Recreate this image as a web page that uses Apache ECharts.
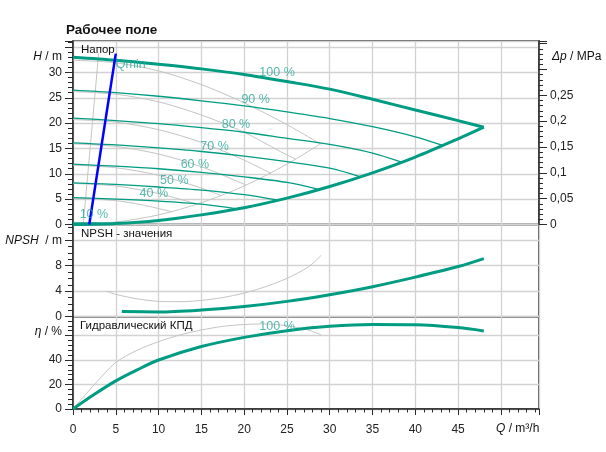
<!DOCTYPE html>
<html><head><meta charset="utf-8">
<script src="https://cdn.jsdelivr.net/npm/echarts@6/dist/echarts.min.js"></script>
<style>html,body{margin:0;padding:0;background:#fff}#c{width:606px;height:452px}</style>
</head><body><div id="c"></div>
<script>
// ---- data (Q in m3/h, H in m) ----
const qTicks = [0,5,10,15,20,25,30,35,40,45];
const head100 = [[0,33.0],[5,32.4],[10,31.6],[15,30.7],[20,29.6],[25,28.2],[30,26.7],[35,24.7],[40,22.6],[45,20.5],[48,19.2]];
const head90  = [[0,26.5],[5,26.0],[10,25.3],[15,24.4],[20,23.4],[25,22.2],[30,20.9],[35,19.3],[40,17.3],[43.2,15.6]];
const head80  = [[0,21.0],[5,20.5],[10,19.9],[15,19.1],[20,18.2],[25,17.0],[30,15.8],[35,14.1],[38.4,12.3]];
const head70  = [[0,16.1],[5,15.7],[10,15.1],[15,14.4],[20,13.5],[25,12.4],[30,11.1],[33.6,9.4]];
const head60  = [[0,11.9],[5,11.5],[10,11.0],[15,10.3],[20,9.4],[25,8.3],[28.8,6.9]];
const head50  = [[0,8.2],[5,7.9],[10,7.4],[15,6.8],[20,5.9],[24,4.8]];
const head40  = [[0,5.3],[5,5.0],[10,4.6],[15,4.0],[19.2,3.1]];
const head10  = [[0,0.33],[2.4,0.3],[4.8,0.19]];
const maxEnvelope = [[0,0],[5,0.2],[10,0.8],[15,1.9],[20,3.3],[25,5.2],[30,7.5],[35,10.2],[40,13.3],[45,16.9],[48,19.2]];
const qminLine = [[1.9,0],[5.0,33.7]];

const gray100 = [[0,32.4],[5,31.9],[10,30.3],[15,27.6],[20,24.0],[25,19.7],[28.9,15.9]];
const gray90  = [[0,26.2],[5,25.7],[10,24.2],[15,21.6],[20,18.2],[24,14.6],[26,12.9]];
const gray80  = [[0,20.7],[5,20.2],[10,18.7],[15,16.2],[20,12.7],[23.1,10.1]];
const gray70  = [[0,15.9],[5,15.4],[10,13.9],[15,11.4],[20.2,7.8]];
const gray60  = [[0,11.7],[5,11.2],[10,9.7],[15,7.2],[17.3,5.7]];
const gray50  = [[0,8.1],[5,7.6],[10,6.1],[14.5,4.0]];
const gray40  = [[0,5.2],[5,4.7],[8,3.9],[11.6,2.5]];
const grayEnvelope = [[0,0],[5,0.5],[10,1.9],[15,4.3],[20,7.6],[25,11.9],[28.9,15.9]];
const grayQmin = [[1.2,0],[3.0,33.8]];

const npshTeal = [[5.7,0.8],[10,0.74],[15,1.05],[20,1.6],[25,2.4],[30,3.45],[35,4.7],[40,6.2],[45,7.85],[48,9.1]];
const npshGray = [[3.9,4.0],[5,3.5],[7.5,2.8],[10,2.4],[12.5,2.35],[15,2.55],[17.5,3.0],[20,3.7],[22.5,4.7],[25,6.0],[27.5,7.8],[29,9.6]];

const effTeal = [[0,0],[2.5,12],[5,23],[7.5,32],[10,40],[15,51],[20,58.5],[25,64],[30,67.5],[35,69],[40,68.8],[45,66.5],[48,63.8]];
const effGray = [[0,0],[2.5,20],[5,38],[7.5,48],[10,55],[12.5,60.5],[15,64.5],[17.5,67.5],[20,69],[22.5,69.5],[25,68],[27.5,64.5],[29,60.5]];

const headLabelText = ['100 %','90 %','80 %','70 %','60 %','50 %','40 %','10 %','Qmin'];
const headLabelQ    = [23.9, 21.4, 19.1, 16.6, 14.3, 11.9, 9.5, 2.5, 6.8];
const headLabelH    = [29.9, 24.6, 19.7, 15.3, 11.8, 8.6, 6.0, 1.9, 31.5];
const effLabelText = ['100 %'];
const effLabelQ = [23.9];
const effLabelE = [67];

// ---- axis ranges ----
const Q_MAX = 54.45, H_MAX = 36.2, NPSH_MAX = 14.43, ETA_MAX = 75.4;
const P_MAX = H_MAX * 0.00981;

const FONT = 'Liberation Sans, Arial, sans-serif';
const TEAL = '#009c82', TEAL_TXT = '#2aa89a', GRAY = '#c4c4c4', GRID = '#d2d2d2', INK = '#2a2a2a';

function mult(v, s){ return Math.abs(v/s - Math.round(v/s)) < 1e-6; }

const gridBox = {show:true, borderColor:INK, borderWidth:1.5, backgroundColor:'transparent'};
function xAx(idx, showLab){
  return {type:'value', gridIndex:idx, min:0, max:Q_MAX, interval:5,
    axisLine:{show:showLab, onZero:false, lineStyle:{color:INK, width:1.5}},
    axisTick:{show:showLab, length:6, lineStyle:{color:INK}},
    minorTick:{show:showLab, splitNumber:5, length:3.5, lineStyle:{color:INK}},
    axisLabel:{show:showLab, margin:15, fontSize:12, color:'#222', fontFamily:FONT,
      formatter:v => (mult(v,5) && v < 48) ? String(Math.round(v)) : '', showMaxLabel:false},
    splitLine:{show:true, lineStyle:{color:GRID, width:1.3}}};
}
function yAx(idx, max, interval, minorSplit, fmt){
  return {type:'value', gridIndex:idx, min:0, max:max, interval:interval,
    axisLine:{show:true, onZero:false, lineStyle:{color:INK, width:1.5}},
    axisTick:{show:true, length:8, lineStyle:{color:INK}},
    minorTick:{show:true, splitNumber:minorSplit, length:5, lineStyle:{color:INK}},
    axisLabel:{margin:11, fontSize:12, color:'#222', fontFamily:FONT, formatter:fmt, showMaxLabel:false},
    splitLine:{show:true, lineStyle:{color:GRID, width:1.3}}};
}

function line(data, xi, yi, color, width, z){
  return {type:'line', data:data, xAxisIndex:xi, yAxisIndex:yi, showSymbol:false, symbol:'none',
    smooth:0.3, lineStyle:{color:color, width:width}, z:z, silent:true};
}

const series = [];
[gray100,gray90,gray80,gray70,gray60,gray50,gray40,grayEnvelope,grayQmin].forEach(d => series.push(line(d,0,0,GRAY,1,2)));
[head90,head80,head70,head60,head50,head40,head10].forEach(d => series.push(line(d,0,0,TEAL,1.3,3)));
series.push(line(head100,0,0,TEAL,3,4));
series.push(line(maxEnvelope,0,0,TEAL,3,4));
series.push(line(qminLine,0,0,'#0000ff',2.5,5));
series.push(line(npshGray,1,2,GRAY,1,2));
series.push(line(npshTeal,1,2,TEAL,3,4));
series.push(line(effGray,2,3,GRAY,1,2));
series.push(line(effTeal,2,3,TEAL,3,4));

function labelSeries(texts, xs, ys, xi, yi){
  return {type:'scatter', xAxisIndex:xi, yAxisIndex:yi, symbolSize:1, itemStyle:{color:'transparent'}, z:6, silent:true,
    data: texts.map((t,i) => ({name:t, value:[xs[i], ys[i]]})),
    label:{show:true, position:[0,0], align:'center', verticalAlign:'middle', formatter:p => p.name,
      fontSize:12.5, color:TEAL_TXT, fontFamily:FONT}};
}
series.push(labelSeries(headLabelText, headLabelQ, headLabelH, 0, 0));
series.push(labelSeries(effLabelText, effLabelQ, effLabelE, 2, 3));

function txt(x, y, text, align, extra){
  const st = Object.assign({x:0, y:0, text:text, fontSize:12, fontFamily:FONT, fill:'#111', align:align, verticalAlign:'middle',
    rich:{i:{fontStyle:'italic', fontSize:12, fontFamily:FONT, fill:'#111'}}}, extra||{});
  return {type:'text', x:x, y:y, z:100, style:st, silent:true};
}

const option = {
  animation:false,
  backgroundColor:'#fff',
  grid:[
    Object.assign({left:73, top:41, width:466, height:183.5}, gridBox),
    Object.assign({left:73, top:224.5, width:466, height:92.2}, gridBox),
    Object.assign({left:73, top:316.7, width:466, height:92.3}, gridBox)
  ],
  xAxis:[xAx(0,false), xAx(1,false), xAx(2,true)],
  yAxis:[
    yAx(0, H_MAX, 5, 5, v => (mult(v,5) && v < 33) ? String(Math.round(v)) : ''),
    {type:'value', gridIndex:0, position:'right', min:0, max:P_MAX, interval:0.05,
      axisLine:{show:true, onZero:false, lineStyle:{color:INK, width:1.5}},
      axisTick:{show:true, length:8, lineStyle:{color:INK}},
      minorTick:{show:true, splitNumber:5, length:4, lineStyle:{color:INK}},
      axisLabel:{margin:11, fontSize:12, color:'#222', fontFamily:FONT, showMaxLabel:false,
        formatter:v => (mult(v,0.05) && v < 0.28) ? (v < 1e-9 ? '0' : String(+v.toFixed(2)).replace('.', ',')) : ''},
      splitLine:{show:false}},
    yAx(1, NPSH_MAX, 4, 4, v => (mult(v,4) && v < 11) ? String(Math.round(v)) : ''),
    yAx(2, ETA_MAX, 20, 5, v => (mult(v,20) && v < 55) ? String(Math.round(v)) : '')
  ],
  series: series,
  graphic:[
    txt(66, 30, 'Рабочее поле', 'left', {fontSize:13.5, fontWeight:'bold'}),
    txt(62, 57, '{i|H} / m', 'right'),
    txt(62, 240.5, '{i|NPSH}  / m', 'right'),
    txt(62, 331.5, '{i|η} / %', 'right'),
    txt(552, 57, '{i|Δp} / MPa', 'left'),
    txt(496, 429, '{i|Q} / m³/h', 'left'),
    txt(81, 50, 'Напор', 'left', {fontSize:11.5}),
    txt(81, 234, 'NPSH - значения', 'left', {fontSize:11.5}),
    txt(80, 326, 'Гидравлический КПД', 'left', {fontSize:11.5})
  ]
};
echarts.init(document.getElementById('c'), null, {renderer:'canvas'}).setOption(option);
</script></body></html>
